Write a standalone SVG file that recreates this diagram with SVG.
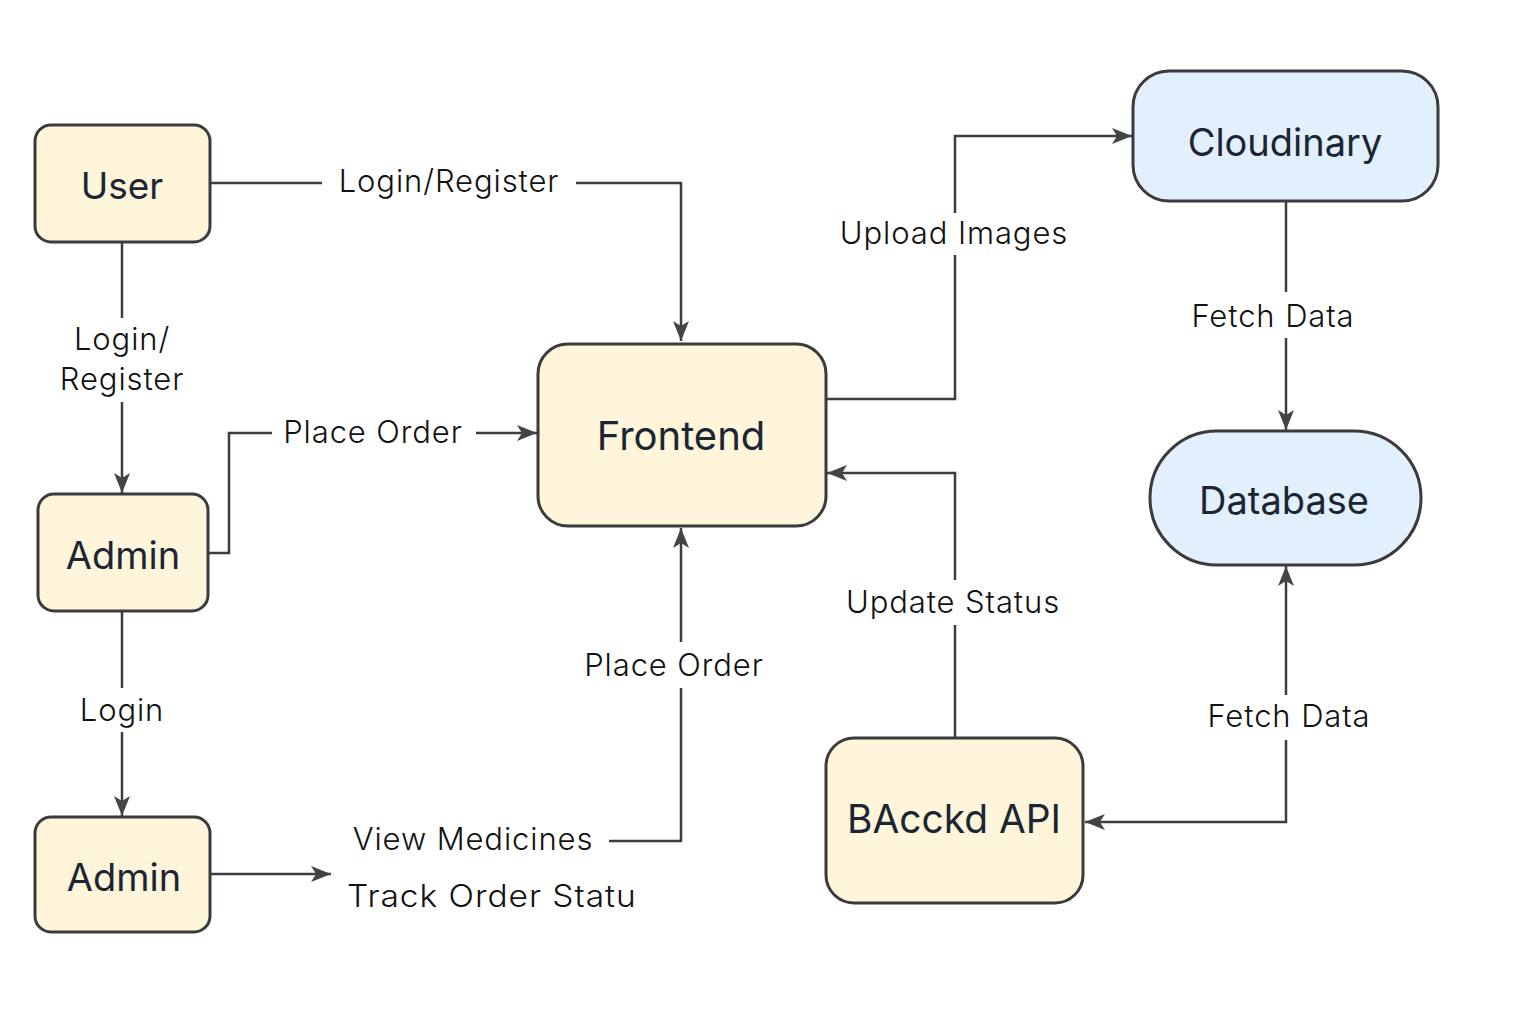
<svg xmlns="http://www.w3.org/2000/svg" width="1536" height="1024" viewBox="0 0 1536 1024">
<style>
.box{fill:#FEF5DA;stroke:#3b3b3b;stroke-width:3}
.blue{fill:#E2EFFC;stroke:#3b3b3b;stroke-width:3}
.nl{font-family:Inter,"Noto Sans","Liberation Sans",sans-serif;font-weight:400;fill:#1c2533;text-anchor:middle}
.el{font-family:Inter,"Noto Sans","Liberation Sans",sans-serif;font-weight:300;fill:#111;font-size:31px;letter-spacing:0.9px;text-anchor:middle}
.c{fill:none;stroke:#3d3d3d;stroke-width:2.5}
</style>
<defs>
<marker id="ah" markerUnits="userSpaceOnUse" markerWidth="22" markerHeight="20" refX="20" refY="10" orient="auto">
<path d="M0,2 L20,10 L0,18 L5,10 Z" fill="#444"/>
</marker>
<clipPath id="clipTrack"><rect x="300" y="860" width="338" height="60"/></clipPath>
</defs>
<rect width="1536" height="1024" fill="#fff"/>
<g id="connectors">
<path class="c" d="M210,183 H322"/>
<path class="c" d="M576,183 H681 V341" marker-end="url(#ah)"/>
<path class="c" d="M122,242 V318"/>
<path class="c" d="M122,402 V493" marker-end="url(#ah)"/>
<path class="c" d="M208,553 H229 V433 H272"/>
<path class="c" d="M476,433 H537" marker-end="url(#ah)"/>
<path class="c" d="M122,611 V688"/>
<path class="c" d="M122,732 V816" marker-end="url(#ah)"/>
<path class="c" d="M210,874 H331" marker-end="url(#ah)"/>
<path class="c" d="M609,841 H681 V688"/>
<path class="c" d="M681,642 V528" marker-end="url(#ah)"/>
<path class="c" d="M826,399 H955 V255"/>
<path class="c" d="M955,213 V136 H1132" marker-end="url(#ah)"/>
<path class="c" d="M1286,201 V292"/>
<path class="c" d="M1286,338 V430" marker-end="url(#ah)"/>
<path class="c" d="M955,738 V625"/>
<path class="c" d="M955,580 V473 H827" marker-end="url(#ah)"/>
<path class="c" d="M1286,695 V566" marker-end="url(#ah)"/>
<path class="c" d="M1286,740 V822 H1085" marker-end="url(#ah)"/>
</g>
<g id="edge-labels">
<text class="el" x="449" y="192">Login/Register</text>
<text class="el" x="122" y="350">Login/</text>
<text class="el" x="122" y="390">Register</text>
<text class="el" x="373" y="443">Place Order</text>
<text class="el" x="122" y="721">Login</text>
<text class="el" x="674" y="676">Place Order</text>
<text class="el" x="473" y="850">View Medicines</text>
<text class="el" x="347" y="907" style="text-anchor:start" textLength="308" lengthAdjust="spacingAndGlyphs" clip-path="url(#clipTrack)">Track Order Status</text>
<text class="el" x="954" y="244">Upload Images</text>
<text class="el" x="1273" y="327">Fetch Data</text>
<text class="el" x="953" y="613">Update Status</text>
<text class="el" x="1289" y="727">Fetch Data</text>
</g>
<g id="user">
<rect class="box" x="35" y="125" width="175" height="117" rx="16"/>
<text class="nl" x="122" y="199" font-size="37">User</text>
</g>
<g id="admin1">
<rect class="box" x="38" y="494" width="170" height="117" rx="16"/>
<text class="nl" x="123" y="569" font-size="38">Admin</text>
</g>
<g id="admin2">
<rect class="box" x="35" y="817" width="175" height="115" rx="16"/>
<text class="nl" x="124" y="891" font-size="38">Admin</text>
</g>
<g id="frontend">
<rect class="box" x="538" y="344" width="288" height="182" rx="30"/>
<text class="nl" x="681" y="450" font-size="40">Frontend</text>
</g>
<g id="cloudinary">
<rect class="blue" x="1133" y="71" width="305" height="130" rx="36"/>
<text class="nl" x="1285" y="156" font-size="38">Cloudinary</text>
</g>
<g id="database">
<rect class="blue" x="1150" y="431" width="271" height="134" rx="67"/>
<text class="nl" x="1284" y="514" font-size="38">Database</text>
</g>
<g id="backend">
<rect class="box" x="826" y="738" width="257" height="165" rx="28"/>
<text class="nl" x="954" y="833" font-size="40" textLength="214" lengthAdjust="spacingAndGlyphs">BAcckd API</text>
</g>
</svg>
